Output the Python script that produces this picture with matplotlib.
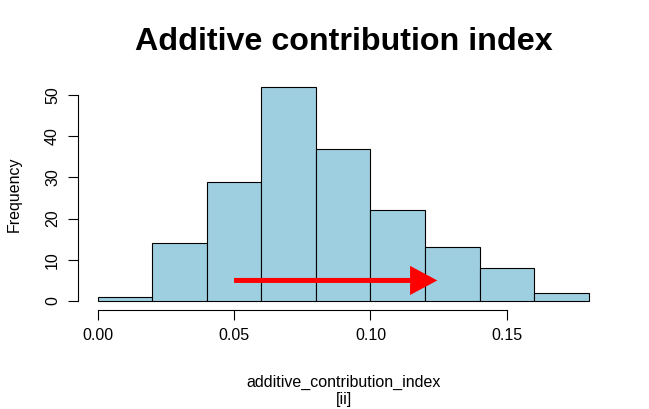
import matplotlib
matplotlib.use("Agg")
import matplotlib.pyplot as plt

# histogram counts per 0.02 bin
bin_edges = [0.00, 0.02, 0.04, 0.06, 0.08, 0.10, 0.12, 0.14, 0.16, 0.18]
counts = [1, 14, 29, 52, 37, 22, 13, 8, 2]
x_ticks = [0.00, 0.05, 0.10, 0.15]
x_tick_labels = ["0.00", "0.05", "0.10", "0.15"]
y_ticks = [0, 10, 20, 30, 40, 50]
arrow_from = (0.05, 5)
arrow_to = (0.1245, 5)

plt.rcParams['font.family'] = ['Liberation Sans', 'DejaVu Sans']

fig = plt.figure(figsize=(6.49, 4.09), dpi=100)
ax = fig.add_axes([0.1202, 0.243, 0.9374 - 0.1202, 0.8088 - 0.243])

lefts = bin_edges[:-1]
widths = [bin_edges[i + 1] - bin_edges[i] for i in range(len(counts))]
ax.bar(lefts, counts, width=widths, align='edge', color='#9ecfe0',
       edgecolor='black', linewidth=0.8)

# R style: usr range extended 4%
xr = bin_edges[-1] - bin_edges[0]
ax.set_xlim(bin_edges[0] - 0.04 * xr, bin_edges[-1] + 0.04 * xr)
ax.set_ylim(-0.04 * max(counts), max(counts) * 1.04)

for s in ['top', 'right']:
    ax.spines[s].set_visible(False)
ax.spines['left'].set_bounds(y_ticks[0], y_ticks[-1])
ax.spines['bottom'].set_bounds(x_ticks[0], x_ticks[-1])
ax.spines['left'].set_linewidth(0.8)
ax.spines['bottom'].set_linewidth(0.8)

ax.set_xticks(x_ticks)
ax.set_xticklabels(x_tick_labels, fontsize=11.5)
ax.set_yticks(y_ticks)
ax.set_yticklabels([str(v) for v in y_ticks], fontsize=11.5, rotation=90, va='center')
ax.tick_params(length=7, width=0.8, pad=6)

ax.annotate("", xy=arrow_to, xytext=arrow_from,
            arrowprops=dict(arrowstyle='-|>,head_length=1.4,head_width=0.75',
                            color='red', lw=3.6, shrinkA=0, shrinkB=0,
                            capstyle='butt', joinstyle='miter'))

fig.text(0.529, 0.897, "Additive contribution index", ha='center', va='center',
         fontsize=23.2, fontweight='bold')
fig.text(0.022, 0.525, "Frequency", ha='center', va='center', rotation=90, fontsize=11.5)
fig.text(0.53, 0.066, "additive_contribution_index", ha='center', va='center', fontsize=11.5)
fig.text(0.53, 0.023, "[ii]", ha='center', va='center', fontsize=11.5)

fig.savefig("out.png", dpi=100)
